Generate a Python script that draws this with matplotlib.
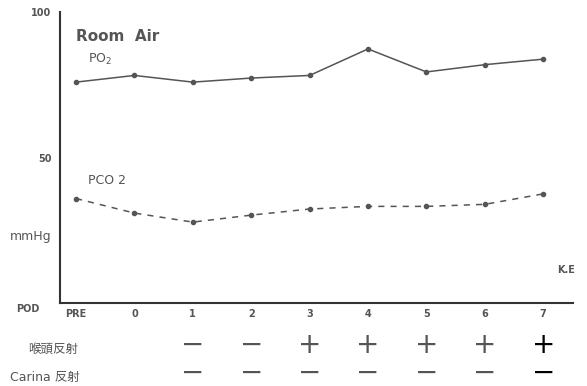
import matplotlib
matplotlib.use('Agg')
import matplotlib.pyplot as plt

plt.rcParams['font.family'] = ['DejaVu Sans', 'Noto Sans CJK JP']

days = ['PRE', '0', '1', '2', '3', '4', '5', '6', '7']
po2 = [75.9, 78.2, 75.9, 77.3, 78.2, 87.3, 79.4, 81.9, 83.8]
pco2 = [35.9, 30.9, 27.8, 30.2, 32.3, 33.2, 33.2, 33.9, 37.5]
larynx = ['', '', '−', '−', '+', '+', '+', '+', '+']
carina = ['', '', '−', '−', '−', '−', '−', '−', '−']

grey = '#555555'
x = list(range(len(days)))

fig = plt.figure(figsize=(5.87, 3.86), dpi=100)
ax = fig.add_axes([60/587, 83/386, 513/587, 291/386])

ax.plot(x, po2, color=grey, lw=1.1, marker='o', ms=3)
ax.plot(x, pco2, color=grey, lw=1.1, ls=(0, (4, 4)), marker='o', ms=3)

ax.set_xlim(-16/58.4, 497/58.4)
ax.set_ylim(0, 100)
for s in ['top', 'right']:
    ax.spines[s].set_visible(False)
for s in ['left', 'bottom']:
    ax.spines[s].set_color('#333333')
    ax.spines[s].set_linewidth(1.5)

ax.set_xticks(x)
ax.set_xticklabels(days, fontsize=7, fontweight='bold', color=grey)
ax.set_yticks([50, 100])
ax.set_yticklabels(['50', '100'], fontsize=7, fontweight='bold', color=grey)
ax.tick_params(axis='x', length=0, pad=4)
ax.tick_params(axis='y', length=0, pad=6)

ax.text(0, 90, 'Room  Air', fontsize=11, fontweight='bold', color=grey)
ax.text(0.2, 82.5, 'PO$_2$', fontsize=9, color=grey)
ax.text(0.2, 41, 'PCO 2', fontsize=9, color=grey)
fig.text(10/587, 1 - 240/386, 'mmHg', fontsize=9, color=grey)
fig.text(557/587, 1 - 273/386, 'K.E', fontsize=7, fontweight='bold', color=grey)
fig.text(16/587, 1 - 312/386, 'POD', fontsize=7, fontweight='bold', color=grey)
fig.text(28/587, 1 - 353/386, '喉頭反射', fontsize=9, color=grey)
fig.text(10/587, 1 - 381/386, 'Carina 反射', fontsize=9, color=grey)

tr = ax.get_xaxis_transform()
for i in x:
    c = 'black' if i == x[-1] else grey
    if larynx[i]:
        ax.text(i, -0.145, larynx[i], transform=tr, ha='center', va='center',
                fontsize=20, color=c)
    if carina[i]:
        ax.text(i, -0.24, carina[i], transform=tr, ha='center', va='center',
                fontsize=20, color=c)

fig.savefig('out.png', dpi=100)
